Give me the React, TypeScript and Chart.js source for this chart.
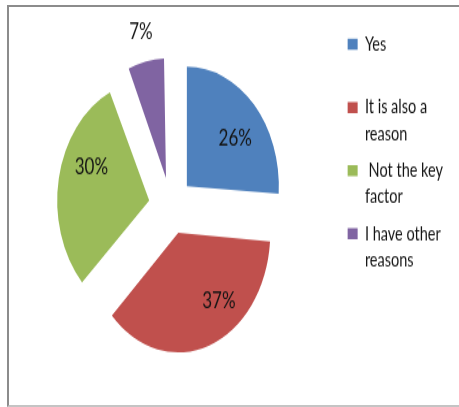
import React, { useEffect, useRef } from 'react';
import { Chart, registerables } from 'chart.js';

Chart.register(...registerables);

// ---- data ----
const categories: string[][] = [
  ['Yes', ''],
  ['It is also a', 'reason'],
  [' Not the key', 'factor'],
  ['I have other', 'reasons'],
];
const values: number[] = [26, 37, 30, 7];
const colors: string[] = ['#4F81BD', '#C0504D', '#9BBB59', '#8064A2'];

// ---- label placement styles (degrees / fraction of radius) ----
const labelAngleShift: number[] = [6, -18, 13.6, 0];
const labelRadiusFrac: number[] = [0.66, 0.72, 0.69, 1.25];

const EXPLODE = 88; // Chart.js translates by offset / 4

const explodeFix = {
  id: 'explodeFix',
  beforeDatasetsDraw(chart: any) {
    const meta = chart.getDatasetMeta(0);
    const base = meta.controller.outerRadius;
    meta.data.forEach((arc: any) => {
      const off = (arc.options.offset || 0) / 4;
      const circ = arc.endAngle - arc.startAngle;
      const fix = 1 - Math.sin(Math.min(Math.PI, circ || 0));
      arc.outerRadius = base - off * fix;
    });
  },
};

const pctLabels = {
  id: 'pctLabels',
  afterDatasetsDraw(chart: any) {
    const ctx = chart.ctx;
    const meta = chart.getDatasetMeta(0);
    const R = meta.controller.outerRadius;
    const total = values.reduce((a, b) => a + b, 0);
    ctx.save();
    ctx.font = '17px Lato';
    ctx.fillStyle = '#141414';
    ctx.textAlign = 'center';
    ctx.textBaseline = 'middle';
    meta.data.forEach((arc: any, i: number) => {
      const mid = (arc.startAngle + arc.endAngle) / 2;
      const shift = (arc.options.offset || 0) / 4;
      const ax = arc.x + Math.cos(mid) * shift;
      const ay = arc.y + Math.sin(mid) * shift;
      const a = mid + (labelAngleShift[i] * Math.PI) / 180;
      const r = R * labelRadiusFrac[i];
      const txt = Math.round((values[i] / total) * 100) + '%';
      ctx.fillText(txt, ax + Math.cos(a) * r, ay + Math.sin(a) * r);
    });
    ctx.restore();
  },
};

export default function App() {
  const ref = useRef<HTMLCanvasElement | null>(null);

  useEffect(() => {
    if (!ref.current) return;
    const chart = new Chart(ref.current, {
      type: 'pie',
      data: {
        labels: categories as any,
        datasets: [
          {
            data: values,
            backgroundColor: colors,
            borderWidth: 0,
            offset: EXPLODE,
          },
        ],
      },
      options: {
        responsive: false,
        animation: false,
        events: [],
        radius: 92,
        layout: { padding: { left: 2, top: 18.8, right: 6, bottom: 15 } },
        plugins: {
          tooltip: { enabled: false },
          legend: {
            position: 'right',
            align: 'start',
            labels: {
              boxWidth: 10,
              boxHeight: 8.5,
              padding: 8,
              color: '#141414',
              font: { family: 'Lato', size: 14.5, lineHeight: 1.4 },
            },
          },
        },
      } as any,
      plugins: [explodeFix, pctLabels],
    });
    return () => chart.destroy();
  }, []);

  return (
    <div>
      <div
        style={{
          position: 'absolute',
          left: 7,
          top: 5,
          width: 470,
          height: 402,
          boxSizing: 'border-box',
          borderTop: '2px solid #8c8c8c',
          borderLeft: '2px solid #8c8c8c',
          borderBottom: '2px solid #c4c4c4',
        }}
      />
      <div
        style={{
          position: 'absolute',
          left: 0,
          top: 0,
          width: 459,
          height: 313,
          transformOrigin: '0 0',
          transform: 'scaleY(1.3)',
        }}
      >
        <canvas ref={ref} width={459} height={313} />
      </div>
    </div>
  );
}
